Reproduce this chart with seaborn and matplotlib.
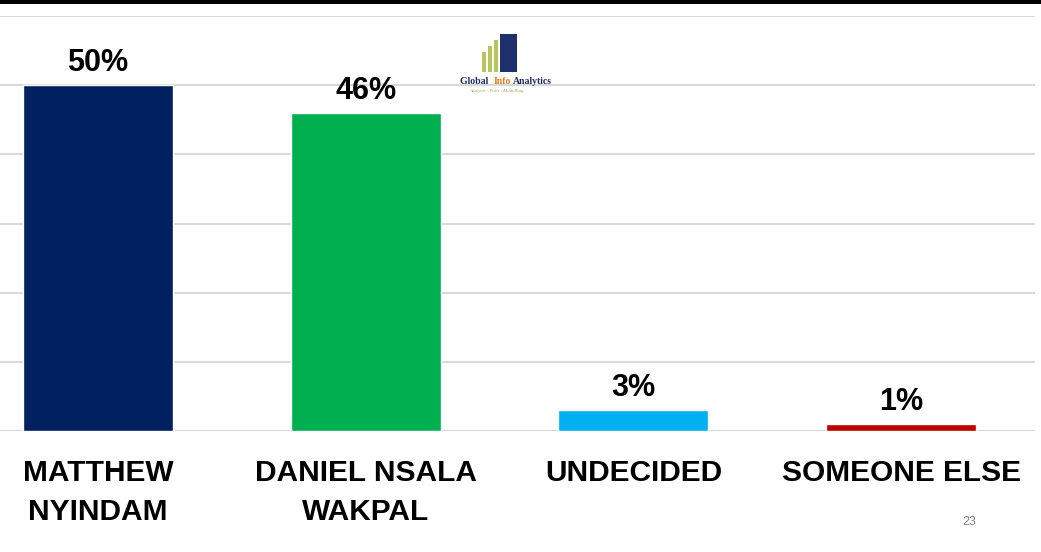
import matplotlib
matplotlib.use("Agg")
import matplotlib.pyplot as plt
import seaborn as sns
import pandas as pd
from matplotlib.patches import Rectangle

categories = ["MATTHEW\nNYINDAM", "DANIEL NSALA\nWAKPAL", "UNDECIDED", "SOMEONE ELSE"]
values = [50, 46, 3, 1]
value_labels = ["50%", "46%", "3%", "1%"]
colors = ["#002060", "#00B050", "#00B0F0", "#C00000"]

df = pd.DataFrame({"category": categories, "value": values})

sns.set_theme(style="white")
plt.rcParams["font.family"] = ["Liberation Sans", "DejaVu Sans"]

W, H = 1041, 552
fig = plt.figure(figsize=(W / 100, H / 100), dpi=100)
fig.patch.set_facecolor("white")
ax = fig.add_axes([0 / W, 1 - 431 / H, 1035 / W, 415 / H])

sns.barplot(data=df, x="category", y="value", hue="category", palette=colors,
            width=0.56, legend=False, ax=ax, saturation=1)

ax.set_ylim(0, 60)
ax.set_xlim(-0.366, 3.5)
ax.set_yticks([0, 10, 20, 30, 40, 50, 60])
ax.yaxis.grid(True, color="#D9D9D9", linewidth=1.5)
ax.set_axisbelow(True)
ax.tick_params(axis="y", left=False, labelleft=False)
for s in ax.spines.values():
    s.set_visible(False)
ax.set_xlabel("")
ax.set_ylabel("")
ax.set_facecolor("white")

ax.tick_params(axis="x", length=0, pad=20)
for lbl in ax.get_xticklabels():
    lbl.set_fontfamily(["Liberation Sans", "DejaVu Sans"])
    lbl.set_fontweight("bold")
    lbl.set_fontsize(21.5)
    lbl.set_color("black")
    lbl.set_linespacing(1.5)

for i, (v, t) in enumerate(zip(values, value_labels)):
    ax.annotate(t, xy=(i, v), xytext=(0, 5), textcoords="offset points",
                ha="center", va="bottom", fontsize=22, fontweight="bold",
                color="black", family=["Liberation Sans", "DejaVu Sans"])

# top black band
fig.patches.append(Rectangle((0, 1 - 4 / H), 1, 4 / H, transform=fig.transFigure,
                             facecolor="black", edgecolor="none", zorder=10))

# logo
fig.text(460 / W, 1 - 82 / H, "Global ", fontsize=7, fontweight="bold",
         family="Liberation Serif", color="#1F2A5A", ha="left", va="center")
fig.text(494 / W, 1 - 82 / H, "Info", fontsize=7, fontweight="bold",
         family="Liberation Serif", color="#E07B20", ha="left", va="center")
fig.text(513 / W, 1 - 82 / H, "Analytics", fontsize=7, fontweight="bold",
         family="Liberation Serif", color="#1F2A5A", ha="left", va="center")
fig.text(497 / W, 1 - 91 / H, "Analysis · Polls · Modelling", fontsize=3.5,
         style="italic", family="Liberation Serif", color="#9AAE3A",
         ha="center", va="center")
for bx, bh in [(482, 20), (488, 26), (494, 32)]:
    fig.patches.append(Rectangle((bx / W, 1 - 72 / H), 4 / W, bh / H,
                                 transform=fig.transFigure, facecolor="#B5C75A",
                                 edgecolor="none"))
fig.patches.append(Rectangle((500 / W, 1 - 72 / H), 17 / W, 38 / H,
                             transform=fig.transFigure, facecolor="#1F2F6B",
                             edgecolor="none"))

fig.text(969 / W, 1 - 522 / H, "23", fontsize=9, color="#808080",
         ha="center", va="center")

fig.savefig("out.png", dpi=100, facecolor="white")
